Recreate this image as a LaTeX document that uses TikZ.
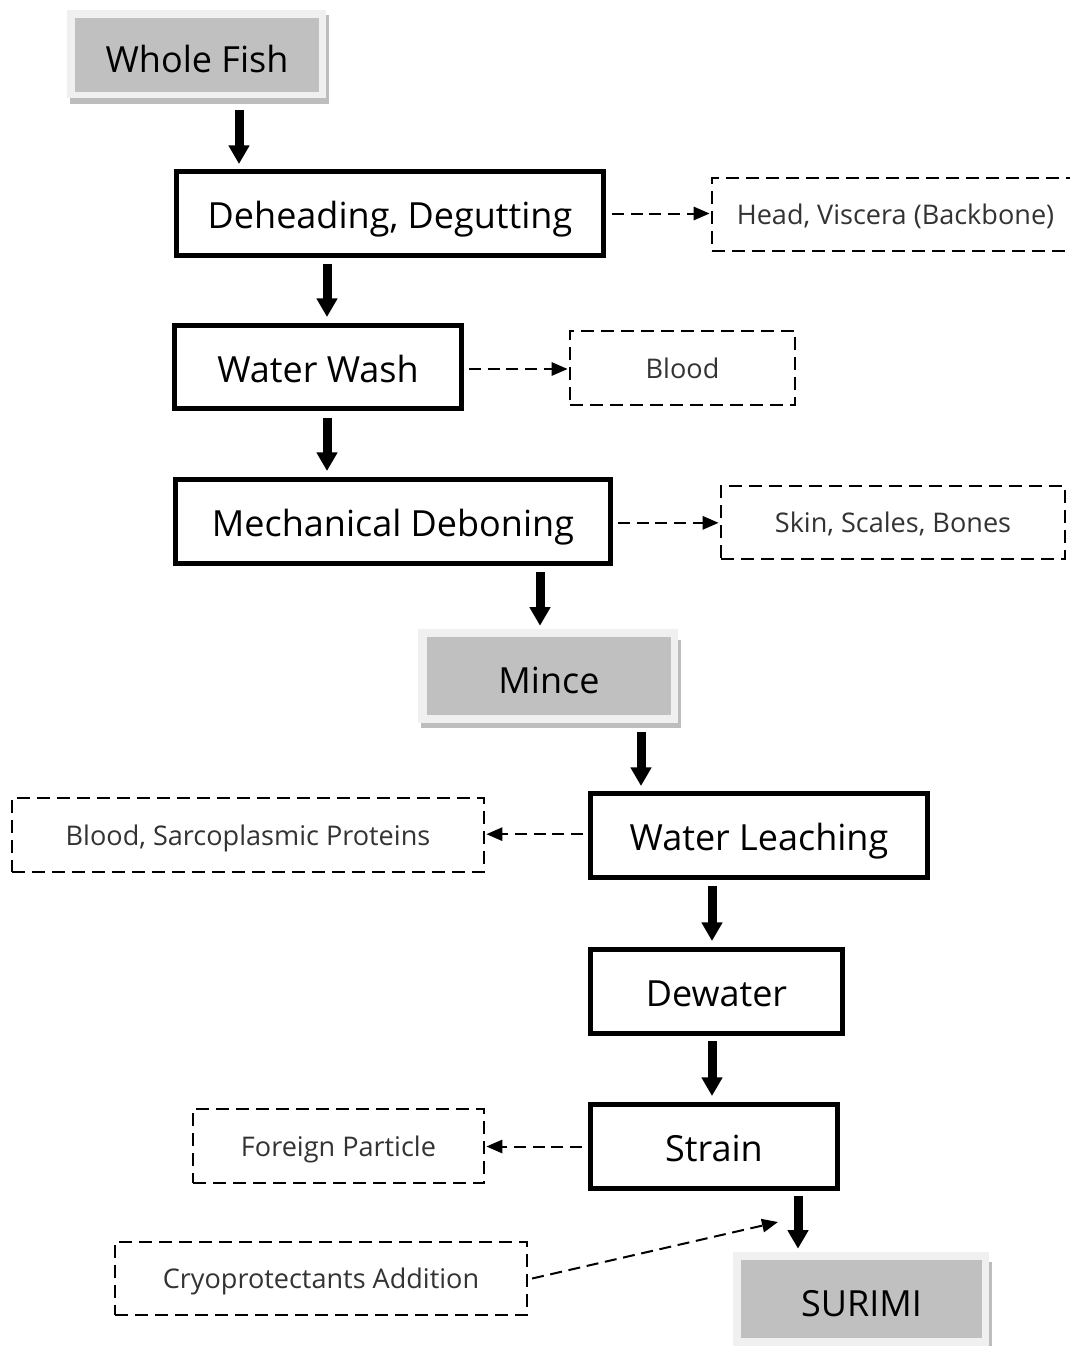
\documentclass[tikz,border=0pt]{standalone}
\usepackage{fontspec}
\setmainfont{Open Sans}
\usetikzlibrary{arrows.meta}
\definecolor{termgray}{HTML}{C0C0C0}
\definecolor{termrim}{HTML}{F0F0F0}
\definecolor{shadowgray}{HTML}{BDBDBD}
\begin{document}
\begin{tikzpicture}[x=0.75pt,y=-0.75pt,
  proc/.style={draw=black, line width=4pt, fill=white, font=\fontsize{27}{32}\selectfont, inner sep=0pt, minimum height=62.75pt, text height=22.5pt, text depth=0pt},
  waste/.style={draw=black, line width=1.6pt, dash pattern=on 10pt off 5pt, font=\fontsize{20.3}{24}\selectfont, text=black!80, inner sep=0pt, text height=15pt, text depth=0pt},
  term/.style={fill=termgray, font=\fontsize{27}{32}\selectfont, inner sep=0pt, minimum width=183pt, text height=26pt, text depth=0pt},
  rim/.style={fill=termrim},
  shade/.style={fill=shadowgray},
  bigarrow/.style={line width=6.75pt, -{Triangle[width=15pt,length=14pt]}},
  dasharrow/.style={line width=1.5pt, dash pattern=on 9pt off 5pt, -{Triangle[width=10pt,length=12pt]}}]
\useasboundingbox (0,0) rectangle (1070,1346);
\clip (0,0) rectangle (1070,1346);
\fill[white] (0,0) rectangle (1070,1346);

% terminal boxes
\fill[shade] (70,15) rectangle (329,104);
\fill[rim] (67,10) rectangle (326,98);
\node[term, minimum height=55.5pt] (whole) at (197,55) {Whole Fish};

\fill[shade] (421,640) rectangle (681,728);
\fill[rim] (418,629) rectangle (678,723);
\node[term, minimum height=58.5pt] (mince) at (549,676) {Mince};

\fill[shade] (736,1262) rectangle (992,1350);
\fill[rim] (733,1252) rectangle (989,1346);
\node[term, minimum width=180.75pt, minimum height=58.5pt] (surimi) at (861.5,1299) {SURIMI};

% process boxes
\node[proc, minimum width=320pt] (dehead) at (390,213.5) {Deheading, Degutting};
\node[proc, minimum width=215pt, minimum height=62pt] (wash) at (318,367) {Water Wash};
\node[proc, minimum width=326pt] (debone) at (393,521.5) {Mechanical Deboning};
\node[proc, minimum width=252.5pt] (leach) at (759,835.5) {Water Leaching};
\node[proc, minimum width=188.75pt] (dewater) at (716.5,991.5) {Dewater};
\node[proc, minimum width=185pt] (strain) at (714,1146.5) {Strain};

% by-product boxes
\node[waste, minimum width=275.25pt, minimum height=54.75pt] (headv) at (895.5,214.5) {Head, Viscera (Backbone)};
\node[waste, minimum width=168.75pt, minimum height=55.5pt] (blood) at (682.5,368) {Blood};
\node[waste, minimum width=258pt, minimum height=54.75pt] (skin) at (893,522.5) {Skin, Scales, Bones};
\node[waste, minimum width=354pt, minimum height=55.5pt] (sarco) at (248,835) {Blood, Sarcoplasmic Proteins};
\node[waste, minimum width=218.25pt, minimum height=55.5pt] (foreign) at (338.5,1146) {Foreign Particle};
\node[waste, minimum width=309pt, minimum height=54.75pt] (cryo) at (321,1278.5) {Cryoprotectants Addition};
\coordinate (cryoend) at (778,1222);

% main flow
\draw[bigarrow] ([xshift=31.5pt,yshift=-13.5pt]whole.south) -- ([xshift=-113.25pt,yshift=3.75pt]dehead.north);
\draw[bigarrow] ([xshift=-47.25pt,yshift=-4.5pt]dehead.south) -- ([xshift=6.75pt,yshift=4.5pt]wash.north);
\draw[bigarrow] ([xshift=6.75pt,yshift=-5.25pt]wash.south) -- ([xshift=-49.5pt,yshift=4.5pt]debone.north);
\draw[bigarrow] ([xshift=110.25pt,yshift=-4.5pt]debone.south) -- ([xshift=-6.75pt,yshift=8.25pt]mince.north);
\draw[bigarrow] ([xshift=69pt,yshift=-12.75pt]mince.south) -- ([xshift=-88.5pt,yshift=3.75pt]leach.north);
\draw[bigarrow] ([xshift=-35.25pt,yshift=-4.5pt]leach.south) -- ([xshift=-3.375pt,yshift=4.5pt]dewater.north);
\draw[bigarrow] ([xshift=-3.375pt,yshift=-3.75pt]dewater.south) -- ([xshift=-1.5pt,yshift=4.5pt]strain.north);
\draw[bigarrow] ([xshift=63pt,yshift=-3.75pt]strain.south) -- ([xshift=-47.625pt,yshift=8.25pt]surimi.north);

% by-product flows
\draw[dasharrow] ([xshift=4.5pt]dehead.east) -- ([xshift=-1pt]dehead.east -| headv.west);
\draw[dasharrow] ([xshift=3.75pt,yshift=-1.5pt]wash.east) -- ([xshift=-1pt,yshift=-1.5pt]wash.east -| blood.west);
\draw[dasharrow] ([xshift=3.75pt,yshift=-1pt]debone.east) -- ([xshift=-1pt,yshift=-1pt]debone.east -| skin.west);
\draw[dasharrow] ([xshift=-3.75pt,yshift=1pt]leach.west) -- ([xshift=1pt,yshift=1pt]leach.west -| sarco.east);
\draw[dasharrow] ([xshift=-4.5pt]strain.west) -- ([xshift=1pt]strain.west -| foreign.east);
\draw[dasharrow] ([xshift=3pt]cryo.east) -- (cryoend);
\end{tikzpicture}
\end{document}
